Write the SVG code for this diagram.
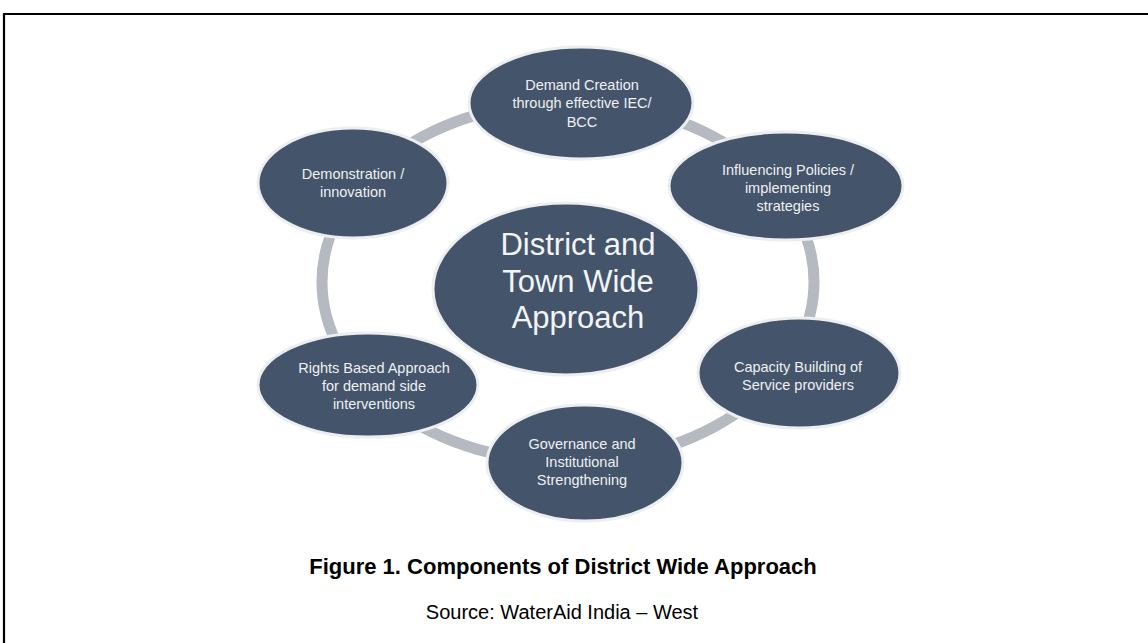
<svg xmlns="http://www.w3.org/2000/svg" width="1148" height="643" viewBox="0 0 1148 643">
<style>
.node{fill:#44546a;stroke:#eceef0;stroke-width:3}
.t{font-family:"Liberation Sans",Arial,sans-serif;font-size:14.5px;fill:#eef0f2;text-anchor:middle}
.big{font-family:"Liberation Sans",Arial,sans-serif;font-size:31px;fill:#f2f4f6;text-anchor:middle}
.cap{font-family:"Liberation Sans",Arial,sans-serif;font-size:22px;font-weight:bold;fill:#000;text-anchor:middle}
.src{font-family:"Liberation Sans",Arial,sans-serif;font-size:20px;fill:#000;text-anchor:middle}
</style>
<rect width="1148" height="643" fill="#fff"/>
<path d="M4,643 V14 H1148" fill="none" stroke="#000" stroke-width="2.2"/>
<g id="connectors">
<ellipse cx="568" cy="282" rx="246" ry="180" fill="none" stroke="#b5b9c0" stroke-width="11"/>
</g>
<g id="node-demand">
<ellipse class="node" cx="581" cy="103" rx="112" ry="56"/>
<text class="t" x="582" y="90">Demand Creation</text>
<text class="t" x="582" y="108">through effective IEC/</text>
<text class="t" x="582" y="127">BCC</text>
</g>
<g id="node-influencing">
<ellipse class="node" cx="786" cy="186" rx="117" ry="54"/>
<text class="t" x="788" y="175">Influencing Policies /</text>
<text class="t" x="788" y="193">implementing</text>
<text class="t" x="788" y="211">strategies</text>
</g>
<g id="node-capacity">
<ellipse class="node" cx="799" cy="373" rx="101" ry="55"/>
<text class="t" x="798" y="372">Capacity Building of</text>
<text class="t" x="798" y="390">Service providers</text>
</g>
<g id="node-governance">
<ellipse class="node" cx="585" cy="463" rx="98" ry="58"/>
<text class="t" x="582" y="449">Governance and</text>
<text class="t" x="582" y="467">Institutional</text>
<text class="t" x="582" y="485">Strengthening</text>
</g>
<g id="node-rights">
<ellipse class="node" cx="368" cy="385" rx="110" ry="52"/>
<text class="t" x="374" y="373">Rights Based Approach</text>
<text class="t" x="374" y="391">for demand side</text>
<text class="t" x="374" y="409">interventions</text>
</g>
<g id="node-demonstration">
<ellipse class="node" cx="353" cy="183" rx="95" ry="55"/>
<text class="t" x="353" y="179">Demonstration /</text>
<text class="t" x="353" y="197">innovation</text>
</g>
<g id="node-center">
<ellipse class="node" cx="566" cy="289" rx="133" ry="86"/>
<text class="big" x="578" y="255">District and</text>
<text class="big" x="578" y="292">Town Wide</text>
<text class="big" x="578" y="328">Approach</text>
</g>
<text class="cap" x="563" y="574">Figure 1. Components of District Wide Approach</text>
<text class="src" x="562" y="619">Source: WaterAid India – West</text>
</svg>
